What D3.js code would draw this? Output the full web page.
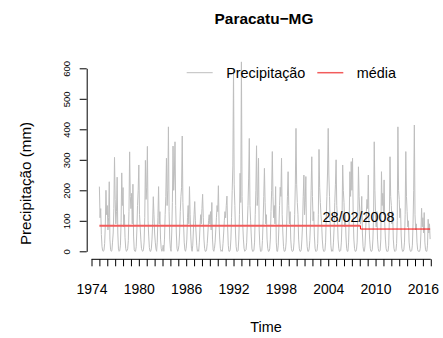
<!DOCTYPE html>
<html><head><meta charset="utf-8">
<script src="https://cdn.jsdelivr.net/npm/d3@7"></script>
<style>
html,body{margin:0;padding:0;background:#fff;}
svg{display:block;font-family:"Liberation Sans",Arial,Helvetica,sans-serif;}
</style></head>
<body>
<svg id="chart" width="443" height="338"></svg>
<script>
// Monthly precipitation (mm), starting January 1975, one row per year
const startYear = 1975;
const precipitacao = [
 212,110,140, 55, 15,  2,  0,  4, 25, 85,200,120,
 150, 70,110,228, 40,  5,  0,  2, 30, 60,140,308,
 170, 90,130,243, 60,  8,  0,  3, 20, 95,257,150,
 209, 80,120, 45, 10,  0,  2,  8, 35,130,326,180,
 140,190, 90,220, 50,  5,  0,  0, 15, 70,150,200,
 283,120, 80, 40, 10,  2,  0,  5, 30,110,298,170,
 210,344,100, 50, 12,  0,  0,  8, 40, 90,179,120,
  60, 30,  8,  0, 30,110,212, 90,130, 40, 10,  0,
   5, 20,  0, 40,120,180,305,150,200,408,130, 40,
  10,  0, 60,160,345,200,250,359,150, 60, 10,  0,
   5, 20, 60,130,180,210,378,160, 90, 30,  5,  0,
  10, 40,110,150, 90,212,120, 50, 10,  0, 20, 70,
 120,163,100, 60, 20,  0,  5,  0, 30, 80,120, 90,
 140,187,110, 40, 10,  0,  0,  5, 25, 60,100,120,
  90,130, 70,160, 40,  5,  0, 10, 30, 70,110,150,
 130,215, 90, 40, 10,  0,  3,  0, 25, 60,100,130,
 110,150,181, 80, 20,  0,  0,  5, 40,110,200,280,
 600,220,150, 60, 15,  0,  0,  3, 40,120,256,160,
 621,180, 90, 40, 10,  0,  2,  5, 30, 90,150,240,
 370,150,100, 50,  8,  0,  0,  4, 30,120,200,346,
 150,180,305, 70, 20,  0,  0,  2, 35,100,180,272,
 160, 90,120, 40, 10,  0,  0,  8, 40,130,200,327,
 180,110,150, 90,212, 30,  0,  0, 20, 80,150,210,
 180,305,120, 60, 15,  0,  0,  5, 30,100,180,261,
 150, 90,130, 40, 10,  0,  0,  3, 30,120,220,403,
 220,160,120, 40, 10,  0,  0,  5, 40, 90,180,250,
 120,160,245, 60, 15,  0,  0,  8, 35, 90,200,310,
 180,100,130, 50, 10,  0,  0,  3, 25,120,334,210,
 160,120, 90, 40, 10,  0,  0,  2, 30,110,180,260,
 403,250,180, 90, 20,  0,  5,  0, 30, 80,160,220,
 300,150,110, 40, 10,  0,  0,  3, 30,100,283,200,
 160, 80,120, 50, 10,  0,  0, 30,110,261,180,294,
 200,305,120, 40, 10,  0,  0,  5, 30,120,277,180,
 130, 90,110,180, 60, 15,  0,  0, 20, 70,130,170,
 140,250, 90, 40, 10,  0,  0,  5, 40,120,359,200,
 120, 80,130, 40, 10,  0,  0,  3, 40,261,150,190,
 120,234, 90, 40, 10,  0,  0,  0, 20,110,310,180,
 150, 90,130, 40, 10,  0,  0,  3, 25,100,408,200,
 170,110,140, 50, 10,  0,  0,  5, 30,120,327,180,
 130, 80,100, 30,  8,  0,  0,  2, 20, 90,200,414,
 120, 70, 90, 30,  5,  0,  0,  0, 10, 60,141, 80,
 110, 60,127, 30,  5,  0,  0, 20,105, 60, 90, 40
];
// Mean before and after the change point (28/02/2008)
const mediaValores = [84, 73];
const mudanca = 2008 + 1/12;      // February 2008
const mudancaRotulo = "28/02/2008";
const yTicks = [0, 100, 200, 300, 400, 500, 600];
const xTickYears = d3.range(1974, 2018);
const xLabelYears = [1974, 1980, 1986, 1992, 1998, 2004, 2010, 2016];
const legendLabels = ["Precipitação", "média"];

const svg = d3.select("#chart");
const x = d3.scaleLinear().domain([1974, 2016]).range([91.5, 422.9]);
const y = d3.scaleLinear().domain([0, 600]).range([251.3, 68.3]);

const serie = precipitacao.map((v, i) => ({t: startYear + i / 12, v}));
const tEnd = serie[serie.length - 1].t;

// precipitation line
svg.append("path")
  .datum(serie)
  .attr("fill", "none")
  .attr("stroke", "#bebebe")
  .attr("stroke-width", 1)
  .attr("d", d3.line().x(d => x(d.t)).y(d => y(d.v)));

// mean lines
svg.append("line")
  .attr("x1", x(startYear)).attr("x2", x(mudanca))
  .attr("y1", y(mediaValores[0])).attr("y2", y(mediaValores[0]))
  .attr("stroke", "#f25c5c").attr("stroke-width", 2);
svg.append("path")
  .attr("fill", "none").attr("stroke", "#ff0000").attr("stroke-width", 1)
  .attr("d", d3.line()([[x(mudanca), y(mediaValores[0])], [x(mudanca), y(mediaValores[1])], [x(tEnd), y(mediaValores[1])]]));

svg.append("text")
  .attr("x", x(mudanca) - 2).attr("y", y(mediaValores[0]) - 4)
  .attr("text-anchor", "middle").attr("font-size", 14.4).attr("fill", "#000")
  .text(mudancaRotulo);

// y axis
const gy = svg.append("g").attr("transform", `translate(86.7,0)`)
  .call(d3.axisLeft(y).tickValues(yTicks).tickSize(7).tickSizeOuter(0));
gy.select(".domain").attr("stroke", "#000");
gy.selectAll(".tick line").attr("stroke", "#000");
gy.selectAll(".tick text")
  .attr("x", 0).attr("dy", null).attr("y", 0)
  .attr("transform", "translate(-16.5,0) rotate(-90)")
  .attr("text-anchor", "middle")
  .attr("font-size", 9.5).attr("fill", "#000")
  .attr("font-family", "'Liberation Sans',Arial,sans-serif");

// x axis
const gx = svg.append("g").attr("transform", `translate(0,259.3)`)
  .call(d3.axisBottom(x).tickValues(xTickYears).tickSize(7).tickSizeOuter(0)
    .tickFormat(d => xLabelYears.includes(d) ? String(d) : ""));
gx.select(".domain").remove();
gx.append("line").attr("x1", x(1974)).attr("x2", x(2017)).attr("stroke", "#000");
gx.selectAll(".tick line").attr("stroke", "#000");
gx.selectAll(".tick text")
  .attr("y", 0).attr("dy", null).attr("transform", "translate(0,34.7)")
  .attr("font-size", 14).attr("fill", "#000")
  .attr("font-family", "'Liberation Sans',Arial,sans-serif");

// titles
svg.append("text").attr("x", 264).attr("y", 23.5).attr("text-anchor", "middle")
  .attr("font-size", 15.4).attr("font-weight", "bold").text("Paracatu−MG");
svg.append("text").attr("x", 266).attr("y", 331.5).attr("text-anchor", "middle")
  .attr("font-size", 14.4).text("Time");
svg.append("text").attr("transform", "translate(30.5,183.5) rotate(-90)")
  .attr("text-anchor", "middle").attr("font-size", 15.2).text("Precipitação (mm)");

// legend
const legend = [
  {label: legendLabels[0], color: "#bebebe", w: 1, x0: 186.7},
  {label: legendLabels[1], color: "#f25c5c", w: 1.5, x0: 317.3}
];
const lg = svg.append("g");
legend.forEach(d => {
  lg.append("line").attr("x1", d.x0).attr("x2", d.x0 + 26).attr("y1", 72.7).attr("y2", 72.7)
    .attr("stroke", d.color).attr("stroke-width", d.w);
  lg.append("text").attr("x", d.x0 + 39.5).attr("y", 78).attr("font-size", 14.4).text(d.label);
});
</script>
</body></html>
